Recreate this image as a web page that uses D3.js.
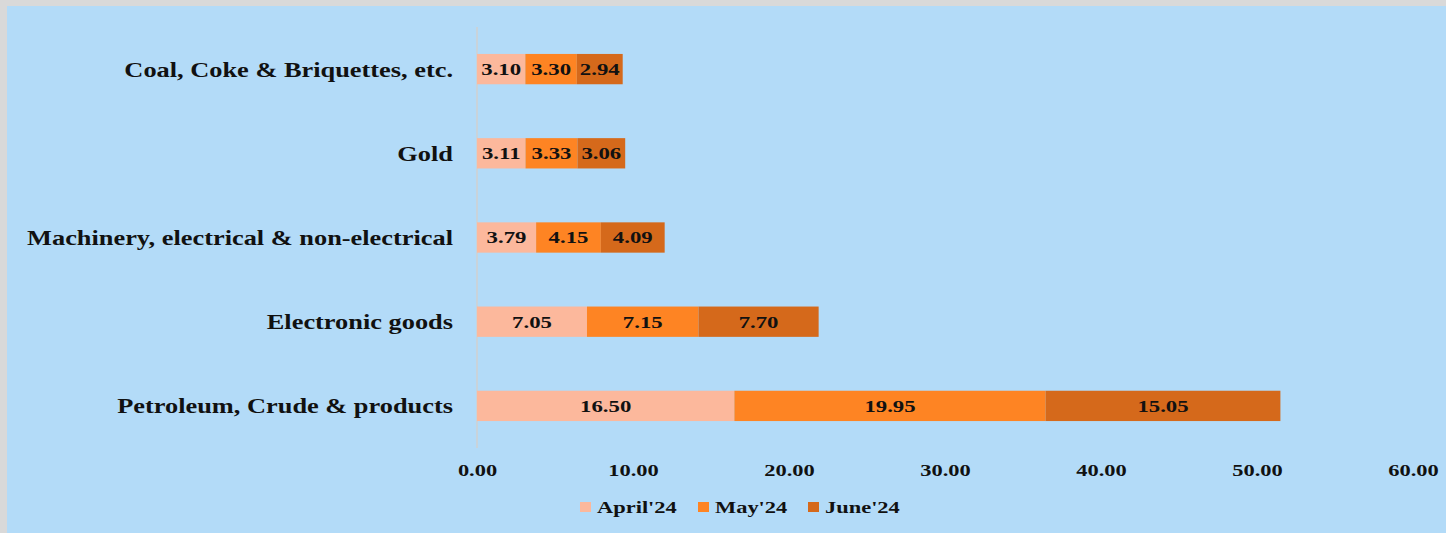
<!DOCTYPE html>
<html>
<head>
<meta charset="utf-8">
<script src="https://cdn.jsdelivr.net/npm/d3@7"></script>
<style>
  html, body { margin: 0; padding: 0; background: #d9d9d9; }
  svg { display: block; }
  text { font-family: "Liberation Serif", "Times New Roman", serif; font-weight: bold; fill: #111; }
</style>
</head>
<body>
<script>
// Top import commodities, US$ billion, by month
const categories = [
  "Coal, Coke & Briquettes, etc.",
  "Gold",
  "Machinery, electrical & non-electrical",
  "Electronic goods",
  "Petroleum, Crude & products"
];
const seriesNames = ["April'24", "May'24", "June'24"];
const april = [3.10, 3.11, 3.79, 7.05, 16.50];
const may   = [3.30, 3.33, 4.15, 7.15, 19.95];
const june  = [2.94, 3.06, 4.09, 7.70, 15.05];
const xTicks = [0, 10, 20, 30, 40, 50, 60];
const colors = ["#fcb89c", "#fe8423", "#d5691b"];

const W = 1446, H = 533;
const svg = d3.select("body").append("svg").attr("width", W).attr("height", H);

// widen glyphs horizontally, as in the wide bold serif style of the chart
function stretch(sel, k) {
  sel.each(function () {
    const len = this.getComputedTextLength();
    d3.select(this).attr("textLength", len * k).attr("lengthAdjust", "spacingAndGlyphs");
  });
}

// chart area panel
svg.append("rect").attr("x", 7).attr("y", 6).attr("width", W - 7).attr("height", H - 6)
  .attr("fill", "#b3dbf8");

const x = d3.scaleLinear().domain([0, 60]).range([477, 1413]);
const y = d3.scaleBand().domain(categories).range([27, 448]).paddingInner(0.64).paddingOuter(0.32);

const rows = categories.map((c, i) => ({ cat: c, April: april[i], May: may[i], June: june[i] }));
const keys = ["April", "May", "June"];
const stack = d3.stack().keys(keys)(rows);

// category axis line
svg.append("line").attr("x1", x(0)).attr("x2", x(0)).attr("y1", 27).attr("y2", 448)
  .attr("stroke", "#d0d0d0").attr("stroke-width", 1.5);

// stacked bars
const layer = svg.append("g").selectAll("g").data(stack).join("g")
  .attr("fill", (d, i) => colors[i]);
layer.selectAll("rect").data(d => d).join("rect")
  .attr("x", d => x(d[0]))
  .attr("y", d => y(d.data.cat))
  .attr("width", d => x(d[1]) - x(d[0]))
  .attr("height", y.bandwidth());

// value labels
const vl = layer.selectAll("text").data(d => d).join("text")
  .attr("x", d => (x(d[0]) + x(d[1])) / 2)
  .attr("y", d => y(d.data.cat) + y.bandwidth() / 2)
  .attr("dy", "0.36em")
  .attr("text-anchor", "middle")
  .style("font-size", "16.5px")
  .text(d => (d[1] - d[0]).toFixed(2));
stretch(vl, 1.38);

// category labels
const cl = svg.append("g").selectAll("text").data(categories).join("text")
  .attr("x", 453)
  .attr("y", d => y(d) + y.bandwidth() / 2)
  .attr("dy", "0.36em")
  .attr("text-anchor", "end")
  .style("font-size", "21px")
  .text(d => d);
stretch(cl, 1.255);

// value axis
const xAxis = d3.axisBottom(x).tickValues(xTicks).tickFormat(d3.format(".2f")).tickSize(0).tickPadding(0);
const gx = svg.append("g").attr("transform", "translate(0,470)").call(xAxis);
gx.select(".domain").remove();
gx.selectAll("text")
  .attr("dy", "0.36em")
  .style("font-size", "16.5px")
  .style("font-family", "'Liberation Serif', 'Times New Roman', serif")
  .style("font-weight", "bold")
  .attr("fill", "#111");
stretch(gx.selectAll("text"), 1.36);

// legend
const legendX = [580, 698, 808];
const lg = svg.append("g").selectAll("g").data(seriesNames).join("g")
  .attr("transform", (d, i) => `translate(${legendX[i]},507)`);
lg.append("rect").attr("x", 0).attr("y", -5).attr("width", 11).attr("height", 10)
  .attr("fill", (d, i) => colors[i]);
const lt = lg.append("text").attr("x", 17).attr("dy", "0.36em")
  .style("font-size", "16.5px")
  .text(d => d);
stretch(lt, 1.36);
</script>
</body>
</html>
